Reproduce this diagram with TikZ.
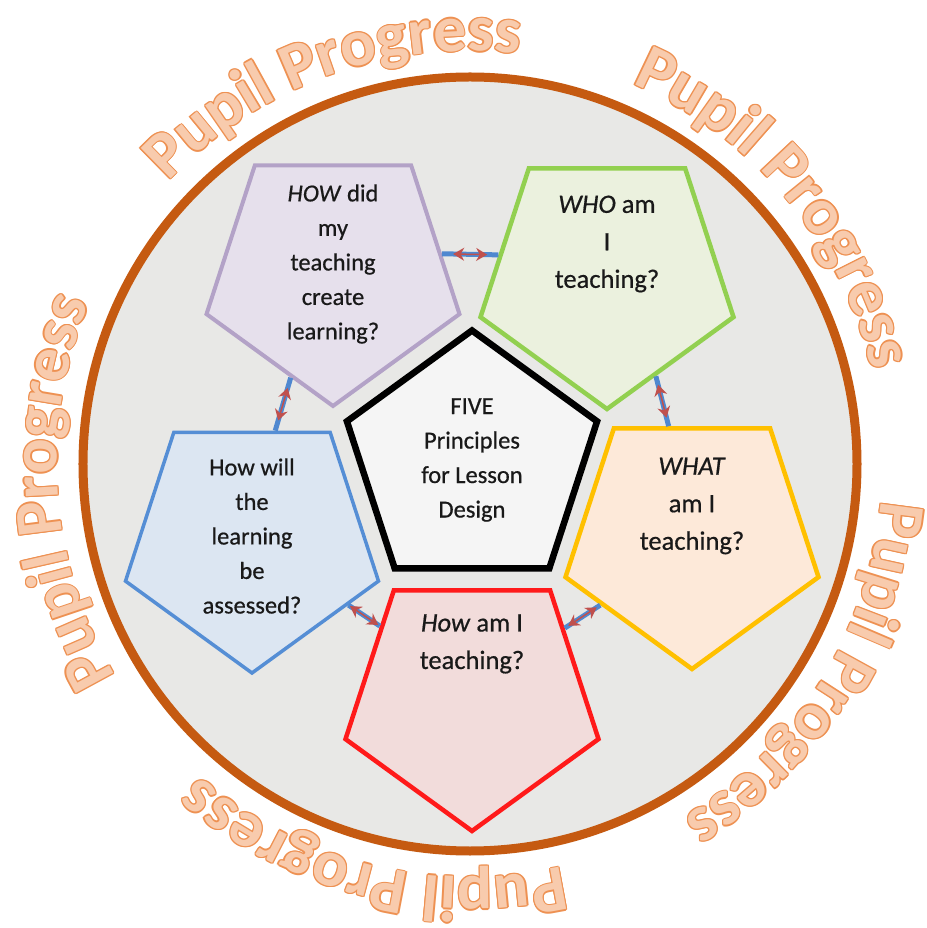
\documentclass[tikz,border=0pt]{standalone}
\usepackage{fontspec}
\setmainfont{Carlito}
\newfontfamily\boxfont{Carlito}[FakeBold=0.6]
\usetikzlibrary{shapes.geometric, arrows.meta, calc, decorations.text}

\definecolor{ringline}{HTML}{C55A11}
\definecolor{ringfill}{HTML}{E8E8E6}
\definecolor{lilacline}{HTML}{B3A2C7}
\definecolor{lilacfill}{HTML}{E6E0EC}
\definecolor{leafline}{HTML}{92D050}
\definecolor{leaffill}{HTML}{EBF1DE}
\definecolor{goldline}{HTML}{FFC000}
\definecolor{goldfill}{HTML}{FDE9D9}
\definecolor{redline}{HTML}{FF1A1A}
\definecolor{redfill}{HTML}{F2DCDB}
\definecolor{skyline}{HTML}{558ED5}
\definecolor{skyfill}{HTML}{DCE6F2}
\definecolor{linkblue}{HTML}{4F88D0}
\definecolor{linkred}{HTML}{C0504D}
\definecolor{ppfill}{HTML}{F8CBAD}
\definecolor{ppline}{HTML}{EE9152}

\newcommand{\bannerfont}{\fontsize{66}{66}\selectfont\bfseries}

\tikzset{
  pent/.style={regular polygon, regular polygon sides=5, shape border rotate=180,
    minimum size=266pt, line width=4.5pt, inner sep=0pt},
  qtext/.style={align=center, font=\boxfont\fontsize{24.5}{34.5}\selectfont, text=black!90, inner sep=0pt},
  qtextlg/.style={qtext, font=\boxfont\fontsize{26.5}{37.5}\selectfont},
  link/.style={draw=linkblue, line width=5pt},
  twoway/.style={draw=linkred, line width=1.5pt,
    {Stealth[length=11pt,width=13pt]}-{Stealth[length=11pt,width=13pt]}},
  banner/.style={decorate, decoration={text along path, text align=center,
    text={|\bannerfont|Pupil Progress}}},
}

\begin{document}
\begin{tikzpicture}[x=1pt, y=1pt]
  \path[use as bounding box, fill=white] (-470,-464) rectangle (456,464);

  % big disc
  \draw[draw=ringline, fill=ringfill, line width=9pt] (0,0) circle[radius=387];

  % banner text round the disc: outline copies first, then the fill
  \foreach \ang in {110,40,-32,-104,184}{
    \foreach \off in {0,45,...,315}{
      \path[banner, shift={(\off:1.3)}, decoration={text color=ppline}]
        (\ang+40:413) arc[start angle=\ang+40, end angle=\ang-40, radius=413];
    }
    \path[banner, decoration={text color=ppfill}]
      (\ang+40:413) arc[start angle=\ang+40, end angle=\ang-40, radius=413];
  }

  % centre
  \node[pent, shape border rotate=0, minimum size=263pt, line width=6.5pt,
    draw=black, fill=black!4] (design) at (2,2) {};
  \node[qtext] (design-txt) at ([yshift=2]design.center) {FIVE\\Principles\\for Lesson\\Design};

  % the five questions
  \node[pent, draw=lilacline, fill=lilacfill, line width=4pt] (how) at (-137,191) {};
  \node[pent, draw=leafline, fill=leaffill] (who) at (137,188) {};
  \node[pent, draw=goldline, fill=goldfill] (what) at (222,-72) {};
  \node[pent, draw=redline, fill=redfill] (teach) at (2,-234) {};
  \node[pent, draw=skyline, fill=skyfill, line width=3.5pt] (assess) at (-218,-76) {};

  \node[qtext] (how-txt) at ([yshift=9]how.center)
    {\textit{HOW} did\\my\\teaching\\create\\learning?};
  \node[qtextlg] (who-txt) at ([yshift=32]who.center) {\textit{WHO} am\\I\\teaching?};
  \node[qtextlg] (what-txt) at ([yshift=30]what.center) {\textit{WHAT}\\am I\\teaching?};
  \node[qtextlg] (teach-txt) at ([yshift=54]teach.center) {\textit{How} am I\\teaching?};
  \node[qtext] (assess-txt) at ([yshift=4]assess.center)
    {How will\\the\\learning\\be\\assessed?};

  % links between neighbours
  \foreach \a/\p/\b/\q in {how/10/who/169, who/296/what/102, what/217/teach/37,
                           teach/142/assess/326, assess/78/how/248}{
    \draw[link] (\a.\p) -- (\b.\q);
    \coordinate (mid) at ($(\a.\p)!.5!(\b.\q)$);
    \draw[twoway] ($(mid)!17pt!(\a.\p)$) -- ($(mid)!17pt!(\b.\q)$);
  }
\end{tikzpicture}
\end{document}
